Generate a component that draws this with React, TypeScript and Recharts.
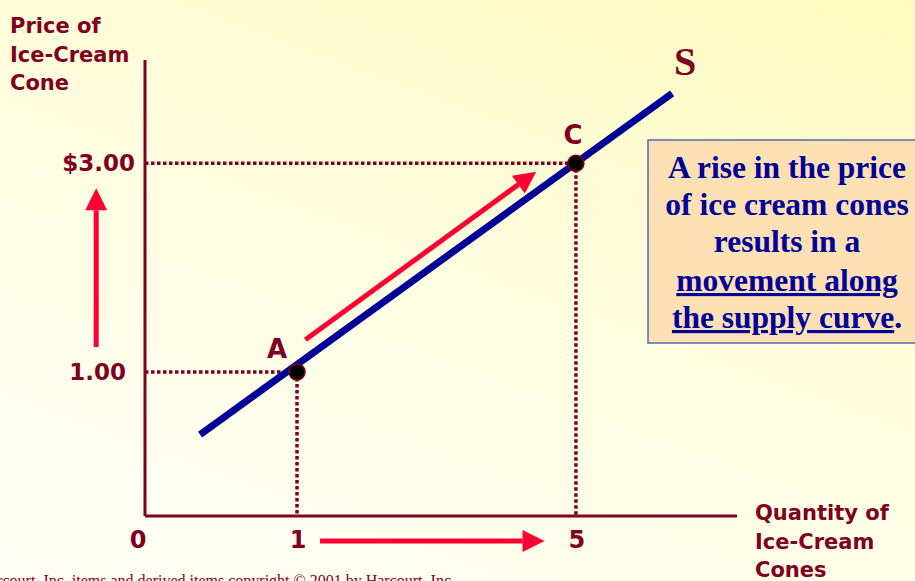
import React from "react";
import { ComposedChart, Scatter, XAxis, YAxis, ReferenceLine } from "recharts";

// axis ends (the origin is drawn as "0" though the scale is not linear from 0)
const qtyDomain = [-1.18, 7.31];
const priceDomain = [-0.38, 3.99];

const qtyTicks = [-1.18, 1, 5];
const qtyTickLabels = ["0", "1", "5"];
const priceTicks = [1, 3];
const priceTickLabels = ["1.00", "$3.00"];

// supply curve S
const supplyLine = [
  { q: -0.39, p: 0.4 },
  { q: 6.38, p: 3.67 },
];

// points on the curve
const points = [
  { name: "A", q: 1, p: 1 },
  { name: "C", q: 5, p: 3 },
];

// red arrows (from -> to)
const arrows = [
  { from: [1.12, 1.31], to: [4.43, 2.92] },
  { from: [-1.88, 1.24], to: [-1.88, 2.76] },
  { from: [1.33, -0.62], to: [4.55, -0.62] },
];

const MAROON = "#800020";
const NAVY = "#000099";
const RED = "#ff0033";
const SANS = "'DejaVu Sans', Verdana, sans-serif";
const SERIF = "'Liberation Serif', 'Times New Roman', serif";

const labelOffset: Record<string, [number, number]> = { A: [-20, -14], C: [-3, -19] };

function ArrowShape(props: any) {
  const { x1, y1, x2, y2 } = props;
  const ang = Math.atan2(y2 - y1, x2 - x1);
  const len = 22;
  const half = 11;
  const bx = x2 - len * Math.cos(ang);
  const by = y2 - len * Math.sin(ang);
  const px = -Math.sin(ang) * half;
  const py = Math.cos(ang) * half;
  return (
    <g>
      <line x1={x1} y1={y1} x2={bx} y2={by} stroke={RED} strokeWidth={5} />
      <polygon points={`${x2},${y2} ${bx + px},${by + py} ${bx - px},${by - py}`} fill={RED} />
    </g>
  );
}

function PointShape(props: any) {
  const { cx, cy, payload } = props;
  const [dx, dy] = labelOffset[payload.name] || [0, -15];
  return (
    <g>
      <circle cx={cx} cy={cy} r={8} fill="#000" stroke={MAROON} strokeWidth={1.5} />
      <text x={cx + dx} y={cy + dy} textAnchor="middle" fontFamily={SANS} fontWeight="bold" fontSize={26} fill={MAROON}>
        {payload.name}
      </text>
    </g>
  );
}

export default function App() {
  const guide = { stroke: MAROON, strokeWidth: 3.5, strokeDasharray: "3.5 2.5" };
  return (
    <div
      style={{
        position: "absolute",
        left: 0,
        top: 0,
        width: 915,
        height: 581,
        overflow: "hidden",
        background: "linear-gradient(200deg, #fffbc0 0%, #fffddf 45%, #fffff8 100%)",
      }}
    >
      <ComposedChart width={915} height={581} margin={{ top: 60, right: 178, bottom: 35, left: 85 }}>
        <XAxis
          type="number"
          dataKey="q"
          domain={qtyDomain}
          allowDataOverflow
          ticks={qtyTicks}
          height={30}
          tickLine={false}
          axisLine={{ stroke: MAROON, strokeWidth: 3 }}
          interval={0}
          tick={(t: any) => {
            const i = qtyTicks.indexOf(t.payload.value);
            return (
              <text x={t.x + (i === 0 ? -7 : 1)} y={548} textAnchor="middle" fontFamily={SANS} fontWeight="bold" fontSize={24} fill={MAROON}>
                {qtyTickLabels[i]}
              </text>
            );
          }}
        />
        <YAxis
          type="number"
          dataKey="p"
          domain={priceDomain}
          allowDataOverflow
          ticks={priceTicks}
          width={60}
          tickLine={false}
          axisLine={{ stroke: MAROON, strokeWidth: 3 }}
          interval={0}
          tick={(t: any) => {
            const i = priceTicks.indexOf(t.payload.value);
            return (
              <text x={i === 1 ? 135 : 126} y={t.y + 8} textAnchor="end" fontFamily={SANS} fontWeight="bold" fontSize={23} fill={MAROON}>
                {priceTickLabels[i]}
              </text>
            );
          }}
        />

        {points.map((pt) => (
          <ReferenceLine key={pt.name + "h"} segment={[{ x: qtyDomain[0], y: pt.p }, { x: pt.q, y: pt.p }]} {...guide} ifOverflow="visible" />
        ))}
        {points.map((pt) => (
          <ReferenceLine key={pt.name + "v"} segment={[{ x: pt.q, y: pt.p }, { x: pt.q, y: priceDomain[0] }]} {...guide} ifOverflow="visible" />
        ))}

        {arrows.map((a, i) => (
          <ReferenceLine
            key={"arrow" + i}
            segment={[{ x: a.from[0], y: a.from[1] }, { x: a.to[0], y: a.to[1] }]}
            ifOverflow="visible"
            stroke={RED}
            shape={ArrowShape}
          />
        ))}

        <Scatter data={supplyLine} line={{ stroke: NAVY, strokeWidth: 7 }} shape={() => <g />} isAnimationActive={false} />
        <Scatter data={points} shape={PointShape} isAnimationActive={false} />

        {/* axis titles */}
        <text fontFamily={SANS} fontWeight="bold" fontSize={21} fill={MAROON}>
          <tspan x={10} y={33}>Price of</tspan>
          <tspan x={10} y={62}>Ice-Cream</tspan>
          <tspan x={10} y={90}>Cone</tspan>
        </text>
        <text fontFamily={SANS} fontWeight="bold" fontSize={21} fill={MAROON}>
          <tspan x={755} y={520}>Quantity of</tspan>
          <tspan x={755} y={549}>Ice-Cream</tspan>
          <tspan x={755} y={577}>Cones</tspan>
        </text>
        <text x={685} y={75} textAnchor="middle" fontFamily={SERIF} fontWeight="bold" fontSize={40} fill={MAROON}>
          S
        </text>

        {/* explanation box */}
        <rect x={648} y={140} width={280} height={203} fill="#fde1b5" stroke="#5a6aa8" strokeWidth={1.5} />
        <text textAnchor="middle" fontFamily={SERIF} fontWeight="bold" fontSize={31.5} fill={NAVY}>
          <tspan x={787} y={178}>A rise in the price</tspan>
          <tspan x={787} y={215}>of ice cream cones</tspan>
          <tspan x={787} y={252}>results in a</tspan>
          <tspan x={787} y={291} textDecoration="underline">movement along</tspan>
        </text>
        <text textAnchor="middle" fontFamily={SERIF} fontWeight="bold" fontSize={31.5} fill={NAVY} x={787} y={328}>
          <tspan textDecoration="underline">the supply curve</tspan>
          <tspan>.</tspan>
        </text>

        <text x={455} y={586} textAnchor="end" fontFamily={SERIF} fontSize={16} fill={MAROON}>
          Harcourt, Inc. items and derived items copyright © 2001 by Harcourt, Inc.
        </text>
      </ComposedChart>
    </div>
  );
}
